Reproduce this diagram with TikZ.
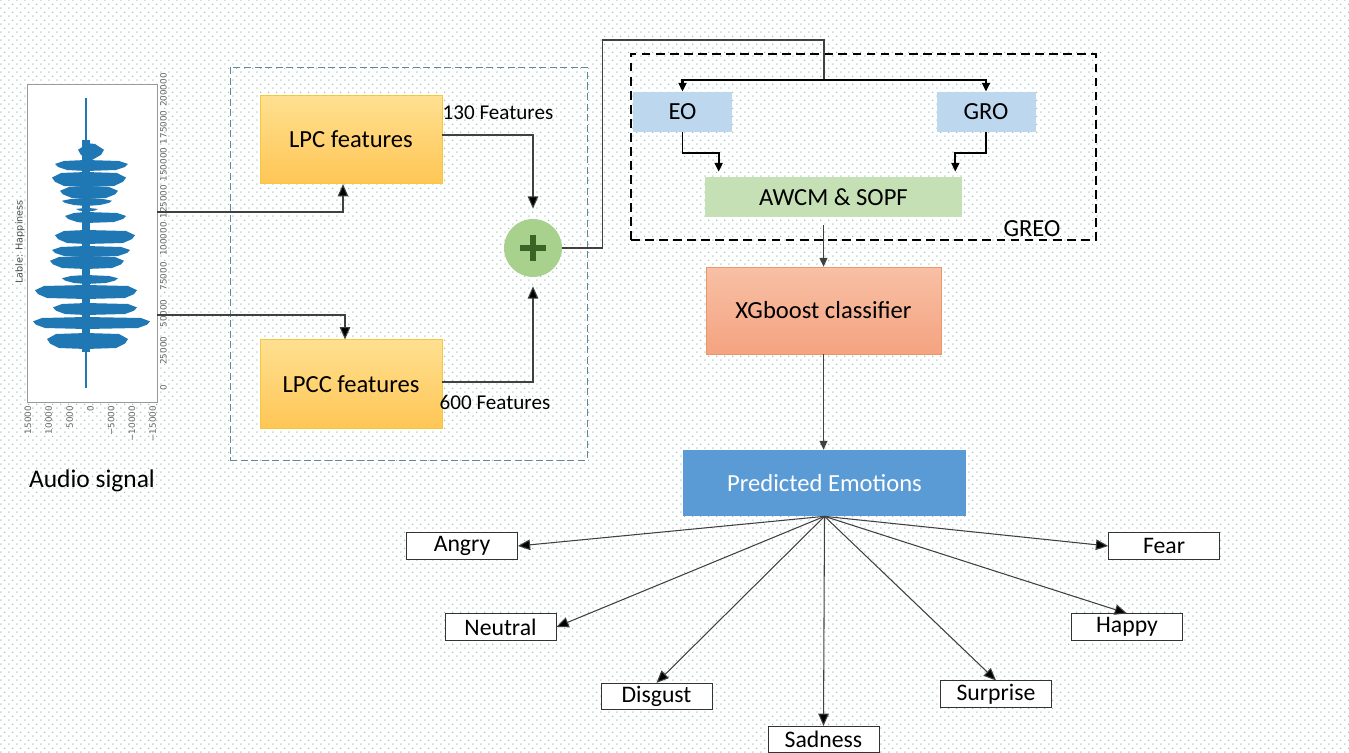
\documentclass[tikz,border=0pt]{standalone}
\usepackage{fontspec}
\setmainfont{Carlito}
\newfontfamily\plotfont{DejaVu Sans}
\usetikzlibrary{arrows.meta,patterns.meta}

\definecolor{dotcol}{RGB}{105,170,160}
\definecolor{lpctop}{RGB}{255,224,145}
\definecolor{lpcbot}{RGB}{255,198,85}
\definecolor{lpcline}{RGB}{242,200,60}
\definecolor{xgbtop}{RGB}{248,192,165}
\definecolor{xgbbot}{RGB}{244,163,128}
\definecolor{xgbline}{RGB}{237,150,105}
\definecolor{oblue}{RGB}{189,215,238}
\definecolor{ogreen}{RGB}{197,224,180}
\definecolor{predblue}{RGB}{91,155,213}
\definecolor{sumgreen}{RGB}{169,209,142}
\definecolor{plusgreen}{RGB}{56,100,38}
\definecolor{wavecol}{RGB}{31,119,180}
\definecolor{groupline}{RGB}{100,135,150}

\tikzdeclarepattern{
    name=bgdots,
    type=uncolored,
    bounding box={(0pt,0pt) and (4.7pt,4.7pt)},
    tile size={(4.7pt,4.7pt)},
    code={
        \fill (1.2pt,1.2pt) circle (0.42pt);
        \fill (3.55pt,3.55pt) circle (0.42pt);
    }
}

\begin{document}
\begin{tikzpicture}[x=0.02cm, y=-0.02cm,
        font=\fontsize{14}{17}\selectfont,
        featbox/.style={draw=lpcline, top color=lpctop, bottom color=lpcbot, minimum width=3.64cm, minimum height=1.77cm},
        optbox/.style={fill=oblue, minimum width=1.98cm, minimum height=0.8cm},
        emobox/.style={draw=black!80, fill=white, minimum width=2.22cm, minimum height=0.53cm, inner sep=0pt, font=\fontsize{13.5}{15}\selectfont},
        ticklbl/.style={rotate=90, text=black!60, inner sep=1pt, font=\plotfont\fontsize{5}{6}\selectfont},
        con/.style={draw=black!75, line width=0.6pt},
        tip/.style={-{Triangle[length=5pt,width=4.5pt]}},
        bigtip/.style={-{Triangle[length=7pt,width=6pt,fill=black]}}]

            %%background
            \fill[white] (0, 0) rectangle (1349, 753);
            \fill[pattern=bgdots, pattern color=dotcol] (0, 0) rectangle (1349, 753);
            \useasboundingbox (0, 0) rectangle (1349, 753);

            %%audio signal plot
            \node[draw=black!40, fill=white, minimum width=2.6cm, minimum height=6.36cm, inner sep=0pt] (plot) at (92, 243) {};
            \fill[wavecol] (82, 140) rectangle (90, 352);
            \draw[wavecol, line width=1.2pt] (86, 98) to (86, 388);
            \foreach \ya/\yb/\l/\r in {143/160/78/104, 160/170/55/128, 172/186/52/126, 186/198/60/118, 198/205/62/112,
                    207/212/76/98, 212/222/65/126, 230/243/55/135, 246/256/52/130, 256/268/50/124, 275/283/62/118,
                    285/298/35/137, 303/314/53/137, 317/328/33/150, 333/348/47/128}
                \fill[wavecol] (86, \ya) -- (\l+9, \ya+1) -- (\l, {\ya+0.4*(\yb-\ya)}) -- (\l+3, {\ya+0.7*(\yb-\ya)})
                    -- (\l+12, \yb) -- (86, \yb+1) -- (\r-12, \yb) -- (\r-3, {\ya+0.7*(\yb-\ya)})
                    -- (\r, {\ya+0.4*(\yb-\ya)}) -- (\r-9, \ya+1) -- cycle;
            \foreach \v [count=\i from 0] in {0,25000,50000,75000,100000,125000,150000,175000,200000}
                \node[ticklbl, anchor=north] (ty\i) at (158, {388-37.25*\i}) {\v};
            \foreach \v [count=\i from 0] in {15000,10000,5000,0,−5000,−10000,−15000}
                \node[ticklbl, anchor=east] (tx\i) at ({28+20.8*\i}, 404) {\v};
            \node[rotate=90, text=black!70, font=\plotfont\fontsize{5.5}{6}\selectfont] (title) at (20, 242) {Lable: Happiness};
            \node[font=\fontsize{14.5}{17}\selectfont] (audiolbl) at (92, 481) {Audio signal};

            %%feature extraction
            \node[draw=groupline, dash pattern=on 4pt off 2pt, minimum width=7.14cm, minimum height=7.86cm] (group) at (408.5, 263.5) {};
            \node[featbox] (lpc) at (351, 139.5) {LPC features};
            \node[featbox] (lpcc) at (351, 384) {LPCC features};
            \node[circle, fill=sumgreen, minimum size=1.16cm, inner sep=0pt] (sum) at (533, 248) {};
                \draw[plusgreen, line width=3.4pt] (sum.center) ++(-13, 0) to ++(26, 0);
                \draw[plusgreen, line width=3.4pt] (sum.center) ++(0, -13) to ++(0, 26);
            \node[font=\fontsize{12}{14}\selectfont] (n130) at (498, 113) {130 Features};
            \node[font=\fontsize{12}{14}\selectfont] (n600) at (495, 402) {600 Features};

            \draw[con, bigtip] ([yshift=0.62cm]plot.east) -| ([xshift=-0.16cm]lpc.south);
            \draw[con, bigtip] ([yshift=-1.44cm]plot.east) -| ([xshift=-0.12cm]lpcc.north);
            \draw[con, bigtip, shorten >=0.2cm] ([yshift=0.09cm]lpc.east) -| (sum.north);
            \draw[con, bigtip, shorten >=0.18cm] ([yshift=0.04cm]lpcc.east) -| (sum.south);

            %%optimisation block
            \node[draw, line width=1.1pt, dash pattern=on 5pt off 3pt, minimum width=9.3cm, minimum height=3.72cm] (greo) at (863.5, 147) {};
            \node (greolbl) at (1032, 229) {GREO};
            \node[optbox] (eo) at (682.5, 112) {EO};
            \node[optbox] (gro) at (986, 112) {GRO};
            \node[fill=ogreen, minimum width=5.14cm, minimum height=0.8cm] (awcm) at (833.5, 197) {AWCM \& SOPF};

            \coordinate (split) at (824, 80);
            \draw[con] (sum.east) -- ++(40, 0) |- (824, 40) -- (split);
            \draw[line width=1.4pt, tip] (split) -| (eo.north);
            \draw[line width=1.4pt, tip] (split) -| (gro.north);
            \draw[line width=1.1pt, tip, shorten >=0.1cm] (eo.south) -- ++(0, 21) -| ([xshift=0.28cm]awcm.north west);
            \draw[line width=1.1pt, tip, shorten >=0.1cm] (gro.south) -- ++(0, 21) -| ([xshift=-0.14cm]awcm.north east);

            %%classifier and output
            \node[draw=xgbline, top color=xgbtop, bottom color=xgbbot, minimum width=4.7cm, minimum height=1.74cm] (xgb) at (823.5, 310.5) {XGboost classifier};
            \node[fill=predblue, text=white, minimum width=5.66cm, minimum height=1.32cm] (pred) at (824.5, 483) {Predicted Emotions};
            \draw[con, tip, shorten <=0.16cm] (awcm.south -| xgb.north) -- (xgb.north);
            \draw[con, tip] (xgb.south) -- (xgb.south |- pred.north);

            %%emotions
            \node[emobox] (angry) at (462, 546) {Angry};
            \node[emobox] (fear) at (1164, 546) {Fear};
            \node[emobox] (neutral) at (500.5, 627) {Neutral};
            \node[emobox] (happy) at (1127, 627) {Happy};
            \node[emobox] (disgust) at (656.5, 696.5) {Disgust};
            \node[emobox] (surprise) at (996, 694) {Surprise};
            \node[emobox] (sadness) at (823.5, 739.5) {Sadness};
            \foreach \e/\a in {angry/east, fear/west, neutral/east, happy/north, disgust/north, surprise/north, sadness/north}
                \draw[con, bigtip] (pred.south) to (\e.\a);
        \end{tikzpicture}
\end{document}
